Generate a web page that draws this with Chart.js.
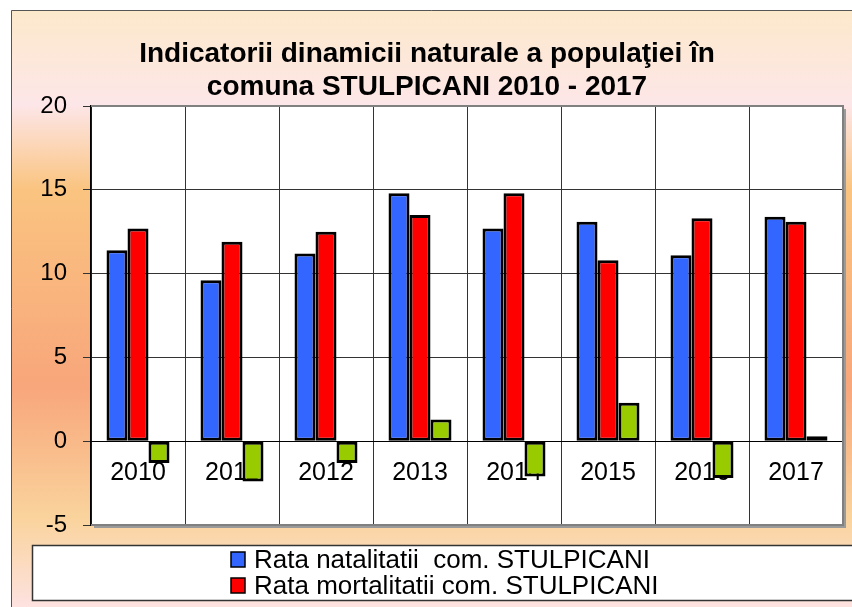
<!DOCTYPE html>
<html>
<head>
<meta charset="utf-8">
<script src="https://cdn.jsdelivr.net/npm/chart.js@4"></script>
<style>
  html, body { margin: 0; padding: 0; background: #fff; }
  #wrap { width: 852px; height: 607px; position: relative; }
</style>
</head>
<body>
<div id="wrap"><canvas id="dinamicaChart"></canvas></div>
<script>
// date
const years = ['2010', '2011', '2012', '2013', '2014', '2015', '2016', '2017'];
const natalitate = [11.4, 9.6, 11.2, 14.8, 12.7, 13.1, 11.1, 13.4];
const mortalitate = [12.7, 11.9, 12.5, 13.5, 14.8, 10.8, 13.3, 13.1];
const spor = [-1.3, -2.4, -1.3, 1.3, -2.1, 2.3, -2.2, 0.3];
const yTicks = [-5, 0, 5, 10, 15, 20];

const seriesNames = ['Rata natalitatii  com. STULPICANI', 'Rata mortalitatii com. STULPICANI', 'Spor natural com. STULPICANI'];
const seriesColors = ['#3366FF', '#FF0000', '#99CC00'];

//fundalul cu gradient si zona alba a graficului
const background = {
  id: 'background',
  beforeDraw(chart) {
    const c = chart.ctx;
    const a = chart.chartArea;
    c.save();
    c.fillStyle = '#fff';
    c.fillRect(0, 0, chart.width, chart.height);
    const g = c.createLinearGradient(0, 10, 0, chart.height);
    g.addColorStop(0, '#FCE9CB');
    g.addColorStop(0.16, '#FDE6E8');
    g.addColorStop(0.30, '#FAC480');
    g.addColorStop(0.63, '#F8A67B');
    g.addColorStop(0.85, '#FAD39C');
    g.addColorStop(1, '#FDE2E0');
    c.fillStyle = g;
    c.fillRect(11, 10, chart.width - 11, chart.height - 10);
    c.strokeStyle = '#555';
    c.lineWidth = 1;
    c.beginPath();
    c.moveTo(11.5, chart.height);
    c.lineTo(11.5, 10.5);
    c.lineTo(chart.width, 10.5);
    c.stroke();
    // umbra
    c.fillStyle = '#9a9a9a';
    c.fillRect(a.left + 3, a.top + 3, a.right - a.left, a.bottom - a.top);
    c.fillStyle = '#fff';
    c.fillRect(a.left, a.top, a.right - a.left, a.bottom - a.top);
    c.restore();
  },
  afterDatasetsDraw(chart) {
    const c = chart.ctx;
    const a = chart.chartArea;
    c.save();
    c.strokeStyle = '#808080';
    c.lineWidth = 2;
    c.beginPath();
    c.moveTo(a.left, a.top);
    c.lineTo(a.right, a.top);
    c.lineTo(a.right, a.bottom);
    c.lineTo(a.left, a.bottom);
    c.stroke();
    c.restore();
  }
};

//legenda in chenar, doar primele doua serii
const boxLegend = {
  id: 'boxLegend',
  afterDraw(chart) {
    const c = chart.ctx;
    c.save();
    c.fillStyle = '#fff';
    c.fillRect(32, 545, chart.width - 32, 56);
    c.strokeStyle = '#333';
    c.lineWidth = 1.5;
    c.strokeRect(32.5, 545.5, chart.width, 55);
    c.font = '26px "Liberation Sans", Arial, sans-serif';
    c.textBaseline = 'middle';
    const rows = [560, 586];
    for (let i = 0; i < 2; i++) {
      const ds = chart.data.datasets[i];
      c.fillStyle = ds.backgroundColor;
      c.fillRect(231, rows[i] - 8, 14, 15);
      c.strokeStyle = '#000';
      c.lineWidth = 1.5;
      c.strokeRect(231, rows[i] - 8, 14, 15);
      c.fillStyle = '#000';
      c.fillText(ds.label, 254, rows[i] + 1);
    }
    c.restore();
  }
};

const ctx = document.getElementById('dinamicaChart');

new Chart(ctx, {
  type: 'bar',
  data: {
    labels: years,
    datasets: [natalitate, mortalitate, spor].map((d, i) => ({
      label: seriesNames[i],
      data: d,
      backgroundColor: seriesColors[i],
      borderColor: '#000',
      borderWidth: 3,
      borderSkipped: false,
      categoryPercentage: 0.67,
      barPercentage: 1
    }))
  },
  options: {
    responsive: true,
    maintainAspectRatio: false,
    animation: false,
    layout: { padding: { left: 11, right: 9, top: 10, bottom: 82 } },
    plugins: {
      legend: { display: false },
      tooltip: { enabled: false },
      title: {
        display: true,
        text: ['Indicatorii dinamicii naturale a populaţiei în', 'comuna STULPICANI 2010 - 2017'],
        color: '#000',
        font: { family: '"Liberation Sans", Arial, sans-serif', size: 28, weight: 'bold', lineHeight: 1.18 },
        padding: { top: 28, bottom: 2 }
      }
    },
    scales: {
      x: {
        position: { y: 0 },
        grid: { color: '#333', lineWidth: 1, drawTicks: false, offset: true },
        border: { color: '#000', width: 1 },
        ticks: {
          color: '#000',
          padding: 17,
          font: { family: '"Liberation Sans", Arial, sans-serif', size: 25 }
        }
      },
      y: {
        min: -5,
        max: 20,
        afterFit(s) { s.width = 80; },
        afterBuildTicks(s) { s.ticks = yTicks.map(v => ({ value: v })); },
        grid: { color: '#333', lineWidth: 1, tickLength: 8 },
        border: { color: '#000', width: 1.5 },
        ticks: {
          color: '#000',
          padding: 16,
          font: { family: '"Liberation Sans", Arial, sans-serif', size: 24 }
        }
      }
    }
  },
  plugins: [background, boxLegend]
});
</script>
</body>
</html>
